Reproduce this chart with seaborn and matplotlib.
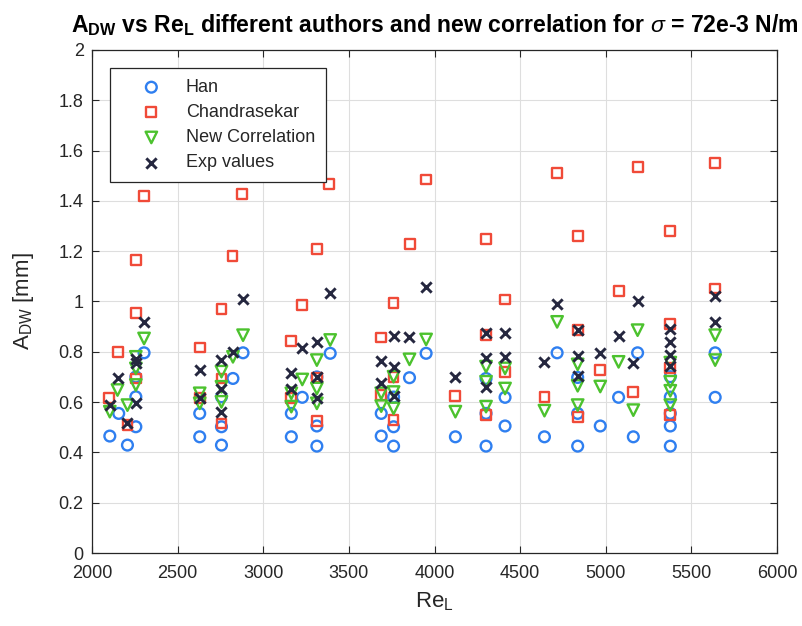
import matplotlib
matplotlib.use("Agg")
import matplotlib.pyplot as plt
from matplotlib.ticker import FuncFormatter, MultipleLocator
import numpy as np
import pandas as pd
import seaborn as sns

# Han correlation
han_re = [2104, 2156, 2207, 2256, 2256, 2256, 2304,
          2629, 2629, 2756, 2756, 2756, 2823, 2882,
          3164, 3164, 3228, 3313, 3313, 3313, 3391,
          3689, 3689, 3761, 3761, 3761, 3854, 3951, 4122,
          4301, 4301, 4301, 4412, 4412, 4642, 4716,
          4836, 4836, 4836, 4968, 5075, 5161, 5186,
          5377, 5377, 5377, 5377, 5377, 5639, 5639]
han_a = [0.465, 0.555, 0.429, 0.700, 0.621, 0.502, 0.796,
         0.555, 0.462, 0.621, 0.502, 0.429, 0.694, 0.796,
         0.555, 0.462, 0.619, 0.700, 0.505, 0.425, 0.794,
         0.555, 0.465, 0.620, 0.502, 0.425, 0.697, 0.794, 0.462,
         0.694, 0.555, 0.425, 0.619, 0.505, 0.462, 0.796,
         0.698, 0.555, 0.425, 0.505, 0.619, 0.462, 0.796,
         0.701, 0.620, 0.555, 0.505, 0.425, 0.796, 0.619]

# Chandrasekar correlation
cha_re = [2098, 2152, 2207, 2256, 2256, 2256, 2302,
          2629, 2629, 2756, 2756, 2756, 2820, 2878,
          3164, 3164, 3228, 3313, 3313, 3313, 3383,
          3689, 3689, 3761, 3761, 3761, 3858, 3951, 4122,
          4301, 4301, 4301, 4412, 4412, 4642, 4713,
          4836, 4836, 4836, 4968, 5075, 5161, 5186,
          5377, 5377, 5377, 5377, 5639, 5639]
cha_a = [0.615, 0.800, 0.509, 1.165, 0.953, 0.694, 1.420,
         0.817, 0.615, 0.970, 0.694, 0.515, 1.182, 1.426,
         0.844, 0.615, 0.986, 1.208, 0.698, 0.526, 1.467,
         0.857, 0.628, 0.995, 0.701, 0.529, 1.228, 1.485, 0.625,
         1.248, 0.866, 0.548, 1.008, 0.721, 0.619, 1.512,
         1.260, 0.886, 0.542, 0.727, 1.041, 0.639, 1.535,
         1.280, 0.910, 0.734, 0.548, 1.551, 1.052]

# New correlation
new_re = [2104, 2149, 2207, 2256, 2256, 2256, 2304,
          2629, 2629, 2756, 2756, 2756, 2823, 2882,
          3164, 3164, 3228, 3313, 3313, 3313, 3391,
          3689, 3689, 3761, 3761, 3761, 3854, 3951, 4122,
          4301, 4301, 4301, 4412, 4412, 4642, 4716,
          4836, 4836, 4836, 4968, 5075, 5161, 5186,
          5377, 5377, 5377, 5377, 5639, 5639]
new_a = [0.562, 0.648, 0.588, 0.780, 0.734, 0.668, 0.853,
         0.635, 0.595, 0.721, 0.661, 0.601, 0.780, 0.866,
         0.635, 0.582, 0.690, 0.767, 0.654, 0.595, 0.847,
         0.635, 0.584, 0.701, 0.640, 0.575, 0.770, 0.849, 0.562,
         0.741, 0.681, 0.582, 0.734, 0.654, 0.566, 0.919,
         0.750, 0.665, 0.588, 0.662, 0.760, 0.568, 0.886,
         0.757, 0.681, 0.645, 0.588, 0.866, 0.767]

# Experimental values
exp_re = [2104, 2149, 2207, 2256, 2256, 2256, 2304,
          2629, 2629, 2756, 2756, 2756, 2823, 2882,
          3164, 3164, 3228, 3313, 3313, 3313, 3391,
          3689, 3689, 3761, 3761, 3761, 3854, 3951, 4122,
          4301, 4301, 4301, 4412, 4412, 4638, 4716,
          4836, 4836, 4836, 4968, 5075, 5161, 5186,
          5377, 5377, 5377, 5377, 5639, 5639]
exp_a = [0.588, 0.694, 0.515, 0.772, 0.755, 0.595, 0.919,
         0.727, 0.615, 0.767, 0.654, 0.562, 0.800, 1.010,
         0.717, 0.652, 0.817, 0.840, 0.698, 0.615, 1.035,
         0.764, 0.677, 0.862, 0.738, 0.624, 0.857, 1.056, 0.701,
         0.873, 0.774, 0.661, 0.873, 0.780, 0.760, 0.990,
         0.886, 0.783, 0.703, 0.794, 0.862, 0.754, 1.003,
         0.890, 0.840, 0.787, 0.745, 1.021, 0.919]

x_ticks = [2000, 2500, 3000, 3500, 4000, 4500, 5000, 5500, 6000]

sns.set_style("ticks")
plt.rcParams["font.family"] = ["Liberation Sans", "DejaVu Sans"]
plt.rcParams["mathtext.fontset"] = "custom"
plt.rcParams["mathtext.rm"] = "Liberation Sans"
plt.rcParams["mathtext.it"] = "Liberation Sans:italic"
plt.rcParams["mathtext.bf"] = "Liberation Sans:bold"

ink = "#262626"

fig = plt.figure(figsize=(8.02, 6.26), dpi=100)
fig.patch.set_facecolor("white")
ax = fig.add_axes([92 / 802, (626 - 553) / 626, 685 / 802, 503 / 626])

series = [
    ("Han", han_re, han_a, "o", "#2f7ff0", 60, 1.7, True),
    ("Chandrasekar", cha_re, cha_a, "s", "#f04a38", 50, 1.7, True),
    ("New Correlation", new_re, new_a, "v", "#4cc22e", 68, 1.7, True),
    ("Exp values", exp_re, exp_a, "x", "#25273f", 55, 2.1, False),
]

for name, xs, ys, mk, col, size, lw, hollow in series:
    df = pd.DataFrame({"Re": xs, "A": ys})
    kw = dict(facecolor="none") if hollow else {}
    sns.scatterplot(data=df, x="Re", y="A", ax=ax, marker=mk, s=size,
                    color=col, edgecolor=col, linewidth=lw,
                    label=name, zorder=3, **kw)

ax.set_xlim(2000, 6000)
ax.set_ylim(0, 2)
ax.set_xticks(x_ticks)
ax.yaxis.set_major_locator(MultipleLocator(0.2))
ax.yaxis.set_major_formatter(FuncFormatter(lambda v, p: f"{round(v, 2):g}"))
ax.xaxis.set_major_formatter(FuncFormatter(lambda v, p: f"{int(v)}"))

ax.grid(True, color="#dedede", linewidth=0.8)
ax.set_axisbelow(True)
for sp in ax.spines.values():
    sp.set_color(ink)
    sp.set_linewidth(0.9)
ax.tick_params(direction="in", length=5, width=0.8, top=True, right=True,
               colors=ink, labelsize=13)
ax.tick_params(axis="x", pad=9)
ax.tick_params(axis="y", pad=6)

ax.set_xlabel(r"Re$_\mathregular{L}$", fontsize=16, color=ink, labelpad=6)
ax.set_ylabel(r"A$_\mathregular{DW}$ [mm]", fontsize=16, color=ink, labelpad=16)
ax.set_title(r"$\mathbf{A_{DW}}$ vs $\mathbf{Re_{L}}$ different authors and new correlation for $\sigma$ = 72e-3 N/m",
             fontsize=16.6, fontweight="bold", color="black", pad=13)

leg = ax.legend(loc="upper left", bbox_to_anchor=(0.026, 0.964), borderaxespad=0,
                fontsize=13, frameon=True, fancybox=False, framealpha=1,
                edgecolor=ink, handletextpad=0.2, borderpad=0.6,
                labelspacing=0.45, handlelength=3.4)
leg.get_frame().set_linewidth(0.9)
for t in leg.get_texts():
    t.set_color(ink)

fig.savefig("out.png", dpi=100)
